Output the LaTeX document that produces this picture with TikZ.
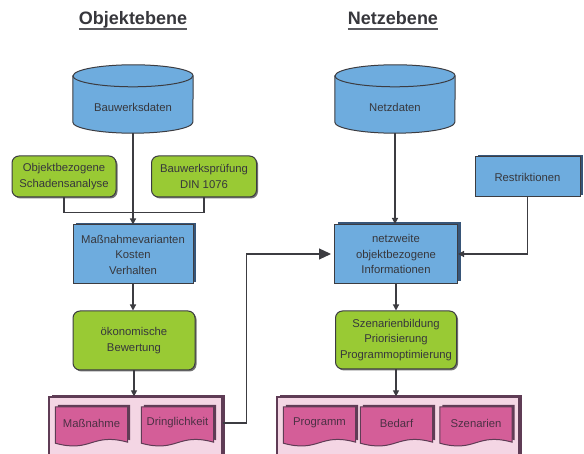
\documentclass[tikz,border=0pt]{standalone}
\usepackage{fontspec}
\setmainfont{Liberation Sans}
\usetikzlibrary{arrows.meta,shadows,calc}
\definecolor{bl}{RGB}{110,172,222}
\definecolor{blsh}{RGB}{55,85,120}
\definecolor{gr}{RGB}{153,202,52}
\definecolor{pk}{RGB}{212,94,152}
\definecolor{pkl}{RGB}{244,214,228}
\definecolor{pke}{RGB}{95,60,85}
\definecolor{tc}{RGB}{55,55,60}
\definecolor{ln}{RGB}{60,60,65}
\newcommand\mydoc[1]{%
  \path[docfill] (#1.north west) -- (#1.north east) -- ([yshift=-3]#1.south east)
    .. controls ([yshift=7]#1.south) and ([yshift=-14]#1.south) .. ([yshift=-4]#1.south west) -- cycle;}
\newcommand\mycyl[1]{%
  \path[cylfill] ([yshift=-11]#1.north west) -- ([yshift=11]#1.south west)
    arc[start angle=180,end angle=360,x radius=60,y radius=11]
    -- ([yshift=-11]#1.north east)
    arc[start angle=0,end angle=180,x radius=60,y radius=11] -- cycle;
  \draw[draw=ln,line width=1pt] ([yshift=-11]#1.north west)
    arc[start angle=180,end angle=360,x radius=60,y radius=11];}
\begin{document}
\begin{tikzpicture}[x=1pt,y=1pt,
  txt/.style={font=\fontsize{11.3}{15.5}\selectfont, text=tc, align=center, inner sep=0pt},
  ttl/.style={font=\fontsize{18}{20}\selectfont\bfseries, text=tc, inner sep=0pt, anchor=base},
  ul/.style={draw=ln!85, line width=2pt},
  bluebox/.style={txt, draw=ln, fill=bl, line width=1pt,
    drop shadow={shadow xshift=3pt, shadow yshift=2pt, fill=blsh, opacity=1}},
  greenbox/.style={txt, draw=ln, fill=gr, line width=1pt, rounded corners=7pt,
    drop shadow={shadow xshift=1.5pt, shadow yshift=-1.5pt, fill=black!55, opacity=1}},
  cylbox/.style={inner sep=0pt, minimum width=120pt, minimum height=68pt},
  cylfill/.style={fill=bl, draw=ln, line width=1pt},
  docnode/.style={txt, text=pke!80!black, minimum width=72pt, minimum height=32pt},
  docfill/.style={fill=pk, draw=pke, line width=1pt,
    drop shadow={shadow xshift=2.5pt, shadow yshift=2pt, fill=pke, opacity=1}},
  cont/.style={fill=pkl, draw=pke, line width=1.2pt, minimum height=70pt, inner sep=0pt,
    drop shadow={shadow xshift=3pt, shadow yshift=2pt, fill=pke, opacity=1}},
  line/.style={draw=ln, line width=1.2pt},
  arr/.style={line, -{Triangle[length=6pt,width=6pt]}},
  bigarr/.style={line, -{Triangle[length=12pt,width=11pt]}, shorten >=3pt}
]
\useasboundingbox (0,0) rectangle (584,454);
\fill[white] (0,0) rectangle (584,454);

% titles
\node[ttl] (tl) at (133,429) {Objektebene};
\draw[ul] ([yshift=-4]tl.base west) -- ([yshift=-4]tl.base east);
\node[ttl] (tr) at (393,429) {Netzebene};
\draw[ul] ([yshift=-4]tr.base west) -- ([yshift=-4]tr.base east);

% cylinders
\node[cylbox] (bd) at (133,355) {};
\mycyl{bd}
\node[txt] (bdt) at ([yshift=-8]bd.center) {Bauwerksdaten};
\node[cylbox] (nd) at (395,355) {};
\mycyl{nd}
\node[txt] (ndt) at ([yshift=-8]nd.center) {Netzdaten};

% left column
\node[greenbox, minimum width=104pt, minimum height=41pt] (ob) at (64,277.5) {Objektbezogene\\Schadensanalyse};
\node[greenbox, minimum width=105pt, minimum height=41pt] (bp) at (204,277.5) {Bauwerksprüfung\\DIN 1076};
\node[bluebox, minimum width=120pt, minimum height=59pt] (mv) at (133,199.5) {Maßnahmevarianten\\Kosten\\Verhalten};
\node[greenbox, minimum width=122pt, minimum height=59pt] (ok) at (134,113.5) {ökonomische\\Bewertung};
\node[cont, minimum width=173pt] (cl) at (135.5,22) {};
\node[docnode] (mn) at (91.5,31) {Maßnahme};
\mydoc{mn}
\node[docnode] at (mn) {Maßnahme};
\node[docnode] (dr) at (177.5,31) {Dringlichkeit};
\mydoc{dr}
\node[docnode] at (dr) {Dringlichkeit};

% right column
\node[bluebox, minimum width=105pt, minimum height=40pt] (rs) at (527.5,277) {Restriktionen};
\node[bluebox, minimum width=123pt, minimum height=59pt] (nw) at (396,200) {netzweite\\objektbezogene\\Informationen};
\node[greenbox, minimum width=121pt, minimum height=58pt] (sz) at (396,114) {Szenarienbildung\\Priorisierung\\Programmoptimierung};
\node[cont, minimum width=242pt] (cr) at (398,22) {};
\node[docnode] (pg) at (319.5,31) {Programm};
\mydoc{pg}
\node[docnode] at (pg) {Programm};
\node[docnode] (bf) at (396.5,31) {Bedarf};
\mydoc{bf}
\node[docnode] at (bf) {Bedarf};
\node[docnode] (sn) at (476,31) {Szenarien};
\mydoc{sn}
\node[docnode] at (sn) {Szenarien};

% connectors left
\draw[line] (ob.south) -- ++(0,-15) -| (bp.south);
\draw[arr] (bd.south) -- (mv.north);
\draw[arr] (mv.south) -- (mv.south |- ok.north);
\draw[arr] (ok.south) -- (ok.south |- cl.north);
\draw[bigarr] (dr.east -| cl.east) -- ++(24,0) |- (nw.west);

% connectors right
\draw[arr] (nd.south) -- (nd.south |- nw.north);
\draw[arr] (rs.south) |- (nw.east);
\draw[arr] (nw.south) -- (nw.south |- sz.north);
\draw[arr] (sz.south) -- (sz.south |- cr.north);
\end{tikzpicture}
\end{document}
